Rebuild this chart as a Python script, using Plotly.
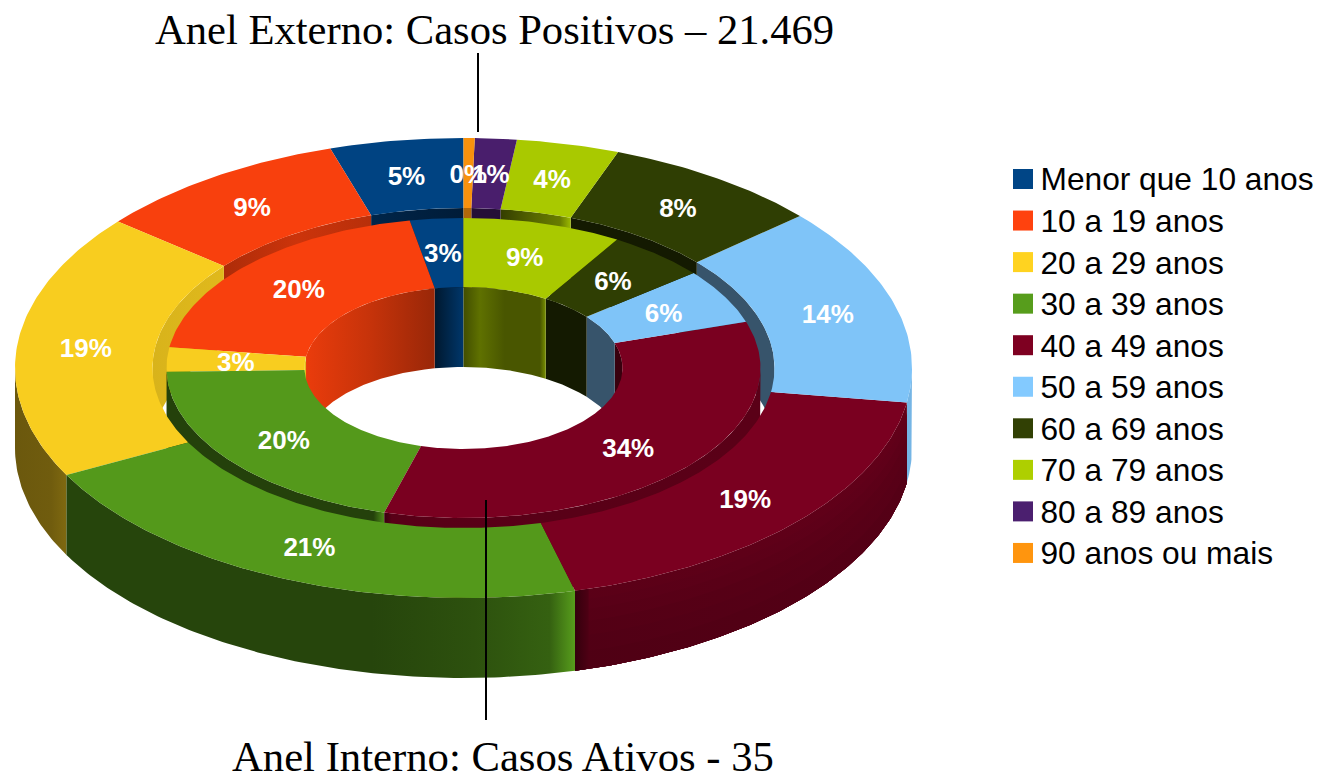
import math
import plotly.graph_objects as go

# ---------- data ----------
categories = ["Menor que 10 anos", "10 a 19 anos", "20 a 29 anos", "30 a 39 anos", "40 a 49 anos",
              "50 a 59 anos", "60 a 69 anos", "70 a 79 anos", "80 a 89 anos", "90 anos ou mais"]
outer_values = [4.8, 9.2, 18.7, 21.3, 18.6, 13.9, 7.9, 3.7, 1.5, 0.4]
inner_values = [2.9, 19.9, 2.6, 20.3, 34.3, 5.9, 5.45, 8.65, 0.0, 0.0]
outer_labels = ["5%", "9%", "19%", "21%", "19%", "14%", "8%", "4%", "1%", "0%"]
inner_labels = ["3%", "20%", "3%", "20%", "34%", "6%", "6%", "9%", "", ""]
colors = ["#004586", "#ff420e", "#ffd320", "#579d1c", "#7e0021",
          "#83caff", "#314004", "#aecf00", "#4b1f6f", "#ff950e"]
title_top = "Anel Externo: Casos Positivos – 21.469"
title_bottom = "Anel Interno: Casos Ativos - 35"

# ---------- projection (pixel space of the hidden axes) ----------
W, H = 1317, 772
CX, CY, DEPTH = 463.5, 368.0, 80.0
R_OUT = (448.5, 230.0)
R_OUT_IN = (311.0, 160.0)
R_IN = (297.0, 150.0)
R_IN_IN = (159.0, 81.0)
TOP_K = 0.975
LABEL_DY = 3


def pt(theta, r, dy=0.0):
    t = math.radians(theta)
    return CX - r[0] * math.sin(t), CY - r[1] * math.cos(t) + dy


def arc(a, b, r, dy=0.0):
    n = max(2, int(abs(b - a) / 0.75) + 1)
    return [pt(a + (b - a) * i / n, r, dy) for i in range(n + 1)]


def spans(values):
    out, c = [], 0.0
    total = sum(values)
    for v in values:
        out.append((c / total * 360, (c + v) / total * 360))
        c += v
    return out


def shade(color, k):
    r, g, b = int(color[1:3], 16), int(color[3:5], 16), int(color[5:7], 16)
    return "rgb(%d,%d,%d)" % (min(255, r * k), min(255, g * k), min(255, b * k))


fig = go.Figure()


def poly(points, **kw):
    fig.add_trace(go.Scatter(x=[p[0] for p in points] + [points[0][0]],
                             y=[p[1] for p in points] + [points[0][1]],
                             mode="lines", fill="toself", line=dict(width=0),
                             hoverinfo="skip", showlegend=False, **kw))


def wall(i, a, b, r, stops, vis, dy0=0.0):
    a2, b2 = max(a, vis[0]), min(b, vis[1])
    if b2 <= a2:
        return
    top = arc(a2, b2, r)
    points = [(x, y + dy0) for x, y in top] + [(x, y + DEPTH) for x, y in reversed(top)]
    xs = [p[0] for p in points]
    cs = [[s, shade(colors[i], k)] for s, k in stops]
    poly(points, fillcolor=shade(colors[i], stops[0][1]),
         fillgradient=dict(type="horizontal", colorscale=cs, start=min(xs), stop=max(xs)))


def flat(k):
    return [(0, k), (1, k)]


out_sp = spans(outer_values)
in_sp = spans(inner_values)

# outer wall of outer ring (front half)
outer_front = {
    2: [(0, .42), (.7, .44), (1, .5)],
    3: [(0, .44), (.6, .44), (.8, .52), (.95, .62), (1, 1.0)],
    5: flat(.9),
}
for i, st in outer_front.items():
    wall(i, *out_sp[i], R_OUT, st, (90, 270))
# maroon wall: bands that darken downwards, following the rim
MAROON = 4
BANDS = [(0, .76), (10, .74), (20, .72), (32, .70), (46, .68), (62, .66)]
for dy0, k in BANDS:
    wall(MAROON, *out_sp[MAROON], R_OUT, [(0, k * .95), (1, k * 1.03)], (90, 270), dy0)
# dark left end of the maroon wall
a0 = out_sp[MAROON][0]
wall(MAROON, a0, a0 + 1.8, R_OUT, [(0, .42), (1, .62)], (90, 270))

# inner wall of outer ring (back half)
outer_back = {
    0: [(0, .55), (1, .42)],
    1: [(0, .68), (.5, .8), (1, .72)],
    2: [(0, .85), (1, .88)],
    5: flat(.42),
    6: flat(.42),
    7: [(0, .3), (.5, .5), (.85, .6), (1, .9)],
    8: flat(.5),
    9: flat(.7),
}
for i, st in outer_back.items():
    wall(i, *out_sp[i], R_OUT_IN, st, (0, 90))
    wall(i, *out_sp[i], R_OUT_IN, st, (270, 360))

# outer wall of inner ring (front half)
inner_front = {
    2: flat(.42),
    3: [(0, .42), (.95, .42), (1, .9)],
    4: [(0, .45), (.02, .7), (1, .72)],
}
for i, st in inner_front.items():
    wall(i, *in_sp[i], R_IN, st, (90, 270))

# inner wall of inner ring (back half)
inner_back = {
    0: [(0, .35), (1, .8)],
    1: [(0, .92), (.5, .78), (1, .6)],
    2: flat(.9),
    4: flat(.45),
    5: flat(.42),
    6: flat(.42),
    7: [(0, .38), (.2, .55), (.5, .42), (.93, .42), (1, .7)],
}
for i, st in inner_back.items():
    wall(i, *in_sp[i], R_IN_IN, st, (0, 90))
    wall(i, *in_sp[i], R_IN_IN, st, (270, 360))

# top faces
for sp, ro, ri in ((in_sp, R_IN, R_IN_IN), (out_sp, R_OUT, R_OUT_IN)):
    for i, (a, b) in enumerate(sp):
        if b - a > 0:
            poly(arc(a, b, ro) + list(reversed(arc(a, b, ri))), fillcolor=shade(colors[i], TOP_K))

# leader lines
for x, y0, y1 in ((478, 53, 132), (486, 500, 720)):
    fig.add_trace(go.Scatter(x=[x, x], y=[y0, y1], mode="lines", line=dict(color="black", width=2),
                             hoverinfo="skip", showlegend=False))


# percentage labels
def label_trace(sp, labels, ro, ri):
    xs, ys, ts = [], [], []
    for (a, b), t in zip(sp, labels):
        if t:
            m = (a + b) / 2
            x, y = pt(m, ((ro[0] + ri[0]) / 2, (ro[1] + ri[1]) / 2), LABEL_DY)
            xs.append(x); ys.append(y); ts.append(t)
    fig.add_trace(go.Scatter(x=xs, y=ys, text=ts, mode="text", textposition="middle center",
                             textfont=dict(family="Liberation Sans", size=26, color="white", weight="bold"),
                             hoverinfo="skip", showlegend=False))


label_trace(out_sp, outer_labels, R_OUT, R_OUT_IN)
label_trace(in_sp, inner_labels, R_IN, R_IN_IN)

# legend (drawn on the axes so that its row pitch can be matched)
LEG_X, LEG_TX, LEG_Y, LEG_DY = 1023, 1040.5, 179, 41.55
rows = [LEG_Y + LEG_DY * i for i in range(len(categories))]
fig.add_trace(go.Scatter(x=[LEG_X] * len(rows), y=rows, mode="markers", hoverinfo="skip", showlegend=False,
                         marker=dict(symbol="square", size=20, color=colors, line=dict(width=0))))
fig.add_trace(go.Scatter(x=[LEG_TX] * len(rows), y=[r + 3.5 for r in rows], text=categories, mode="text",
                         textposition="middle right", hoverinfo="skip", showlegend=False,
                         textfont=dict(family="Liberation Sans", size=31.7, color="black")))

fig.add_annotation(x=494, y=29, text=title_top, showarrow=False, xref="x", yref="y",
                   font=dict(family="Liberation Serif", size=42.6, color="black"))
fig.add_annotation(x=502.5, y=756, text=title_bottom, showarrow=False, xref="x", yref="y",
                   font=dict(family="Liberation Serif", size=42.7, color="black"))

fig.update_layout(
    width=W, height=H, autosize=False,
    margin=dict(l=0, r=0, t=0, b=0),
    paper_bgcolor="white", plot_bgcolor="white",
    xaxis=dict(range=[0, W], visible=False, fixedrange=True),
    yaxis=dict(range=[H, 0], visible=False, fixedrange=True),
    showlegend=False,
)
fig.write_html("out.html", config=dict(displayModeBar=False),
               post_script="document.body.style.margin='0';document.documentElement.style.overflow='hidden';")
